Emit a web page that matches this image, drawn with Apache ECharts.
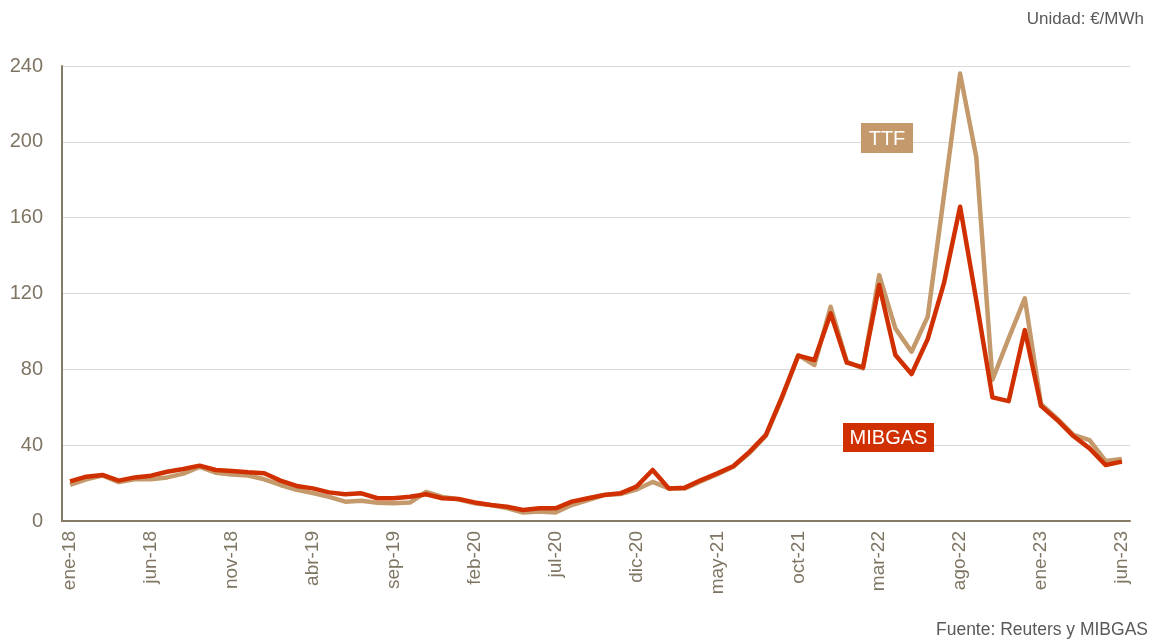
<!DOCTYPE html>
<html>
<head>
<meta charset="utf-8">
<script src="https://cdn.jsdelivr.net/npm/echarts@6/dist/echarts.min.js"></script>
<style>
html,body{margin:0;padding:0;background:#fff;}
#c{width:1153px;height:639px;}
</style>
</head>
<body>
<div id="c"></div>
<script>
const categories = [
 'ene-18','feb-18','mar-18','abr-18','may-18','jun-18','jul-18','ago-18','sep-18','oct-18','nov-18','dic-18',
 'ene-19','feb-19','mar-19','abr-19','may-19','jun-19','jul-19','ago-19','sep-19','oct-19','nov-19','dic-19',
 'ene-20','feb-20','mar-20','abr-20','may-20','jun-20','jul-20','ago-20','sep-20','oct-20','nov-20','dic-20',
 'ene-21','feb-21','mar-21','abr-21','may-21','jun-21','jul-21','ago-21','sep-21','oct-21','nov-21','dic-21',
 'ene-22','feb-22','mar-22','abr-22','may-22','jun-22','jul-22','ago-22','sep-22','oct-22','nov-22','dic-22',
 'ene-23','feb-23','mar-23','abr-23','may-23','jun-23'
];
const ttf = [
 19, 22, 24, 20.5, 22, 22, 23, 25, 28.5, 25.5, 24.5, 24,
 22, 19, 16.5, 14.7, 12.7, 10.2, 10.7, 9.6, 9.3, 9.7, 15.3, 12.7,
 11.5, 9.3, 8.4, 6.8, 4.5, 5, 4.5, 8.4, 11, 13.7, 14.2, 16.6,
 20.6, 17.2, 17.2, 21, 24.7, 28.7, 36, 45, 65, 87.5, 82.3, 113,
 84, 80.5, 129.7, 101.6, 89.3, 107.8, 171.5, 236, 192, 74.5, 96.3, 117.4,
 61.7, 54, 45.4, 42.7, 31.6, 32.7
];
const mibgas = [
 20.9, 23.4, 24.3, 21.3, 23, 23.9, 26, 27.4, 29.2, 26.9, 26.4, 25.7,
 25.2, 21.3, 18.5, 17.2, 15.1, 14.1, 14.6, 12, 12, 12.8, 14.1, 12,
 11.6, 9.8, 8.4, 7.5, 5.8, 6.7, 6.7, 10.2, 12, 13.7, 14.6, 18.1,
 26.9, 17.2, 17.6, 21.6, 25.1, 29, 36.6, 45.4, 65.6, 87.2, 84.9, 109.5,
 83.5, 81, 124.5, 87.6, 77.5, 96, 125.3, 165.8, 116.5, 65.2, 63.2, 100.7,
 60.7, 53.3, 44.8, 38.3, 29.5, 31.3
];
const yTicks = [0, 40, 80, 120, 160, 200, 240];

const TTF_COLOR = '#C49A6C';
const MIB_COLOR = '#D03000';
const AXIS_COLOR = '#857B66';
const LABEL_COLOR = '#7F7563';
const FONT = '"Liberation Sans", Arial, sans-serif';

const chart = echarts.init(document.getElementById('c'));
chart.setOption({
  animation: false,
  backgroundColor: '#fff',
  textStyle: { fontFamily: FONT },
  grid: { left: 62, right: 23, top: 66, bottom: 118, containLabel: false },
  xAxis: {
    type: 'category',
    data: categories,
    boundaryGap: true,
    axisLine: { lineStyle: { color: AXIS_COLOR, width: 2 } },
    axisTick: { show: false },
    axisLabel: {
      interval: 4,
      rotate: 90,
      color: LABEL_COLOR,
      fontSize: 19,
      fontFamily: FONT,
      margin: 10
    },
    splitLine: { show: false }
  },
  yAxis: {
    type: 'value',
    min: yTicks[0],
    max: yTicks[yTicks.length - 1],
    interval: 40,
    axisLine: { show: true, lineStyle: { color: AXIS_COLOR, width: 2 } },
    axisTick: { show: false },
    axisLabel: { color: LABEL_COLOR, fontSize: 20, fontFamily: FONT, margin: 19 },
    splitLine: { lineStyle: { color: '#D9D9D9', width: 1 } }
  },
  series: [
    {
      name: 'TTF', type: 'line', data: ttf, symbol: 'none',
      lineStyle: { color: TTF_COLOR, width: 4.5, join: 'round' }, z: 2
    },
    {
      name: 'MIBGAS', type: 'line', data: mibgas, symbol: 'none',
      lineStyle: { color: MIB_COLOR, width: 4.5, join: 'round' }, z: 3
    }
  ],
  graphic: [
    { type: 'rect', left: 861, top: 123, shape: { width: 52, height: 30 }, style: { fill: TTF_COLOR }, z: 10 },
    { type: 'text', x: 887, y: 139, style: { text: 'TTF', fill: '#fff', font: '20px ' + FONT, align: 'center', verticalAlign: 'middle' }, z: 11 },
    { type: 'rect', left: 843, top: 423, shape: { width: 91, height: 29 }, style: { fill: MIB_COLOR }, z: 10 },
    { type: 'text', x: 888.5, y: 438, style: { text: 'MIBGAS', fill: '#fff', font: '20px ' + FONT, align: 'center', verticalAlign: 'middle' }, z: 11 },
    { type: 'text', x: 1144, y: 19, style: { text: 'Unidad: €/MWh', fill: '#595959', font: '17px ' + FONT, align: 'right', verticalAlign: 'middle' } },
    { type: 'text', x: 1148, y: 630, style: { text: 'Fuente: Reuters y MIBGAS', fill: '#595959', font: '17.5px ' + FONT, align: 'right', verticalAlign: 'middle' } }
  ]
});
</script>
</body>
</html>
